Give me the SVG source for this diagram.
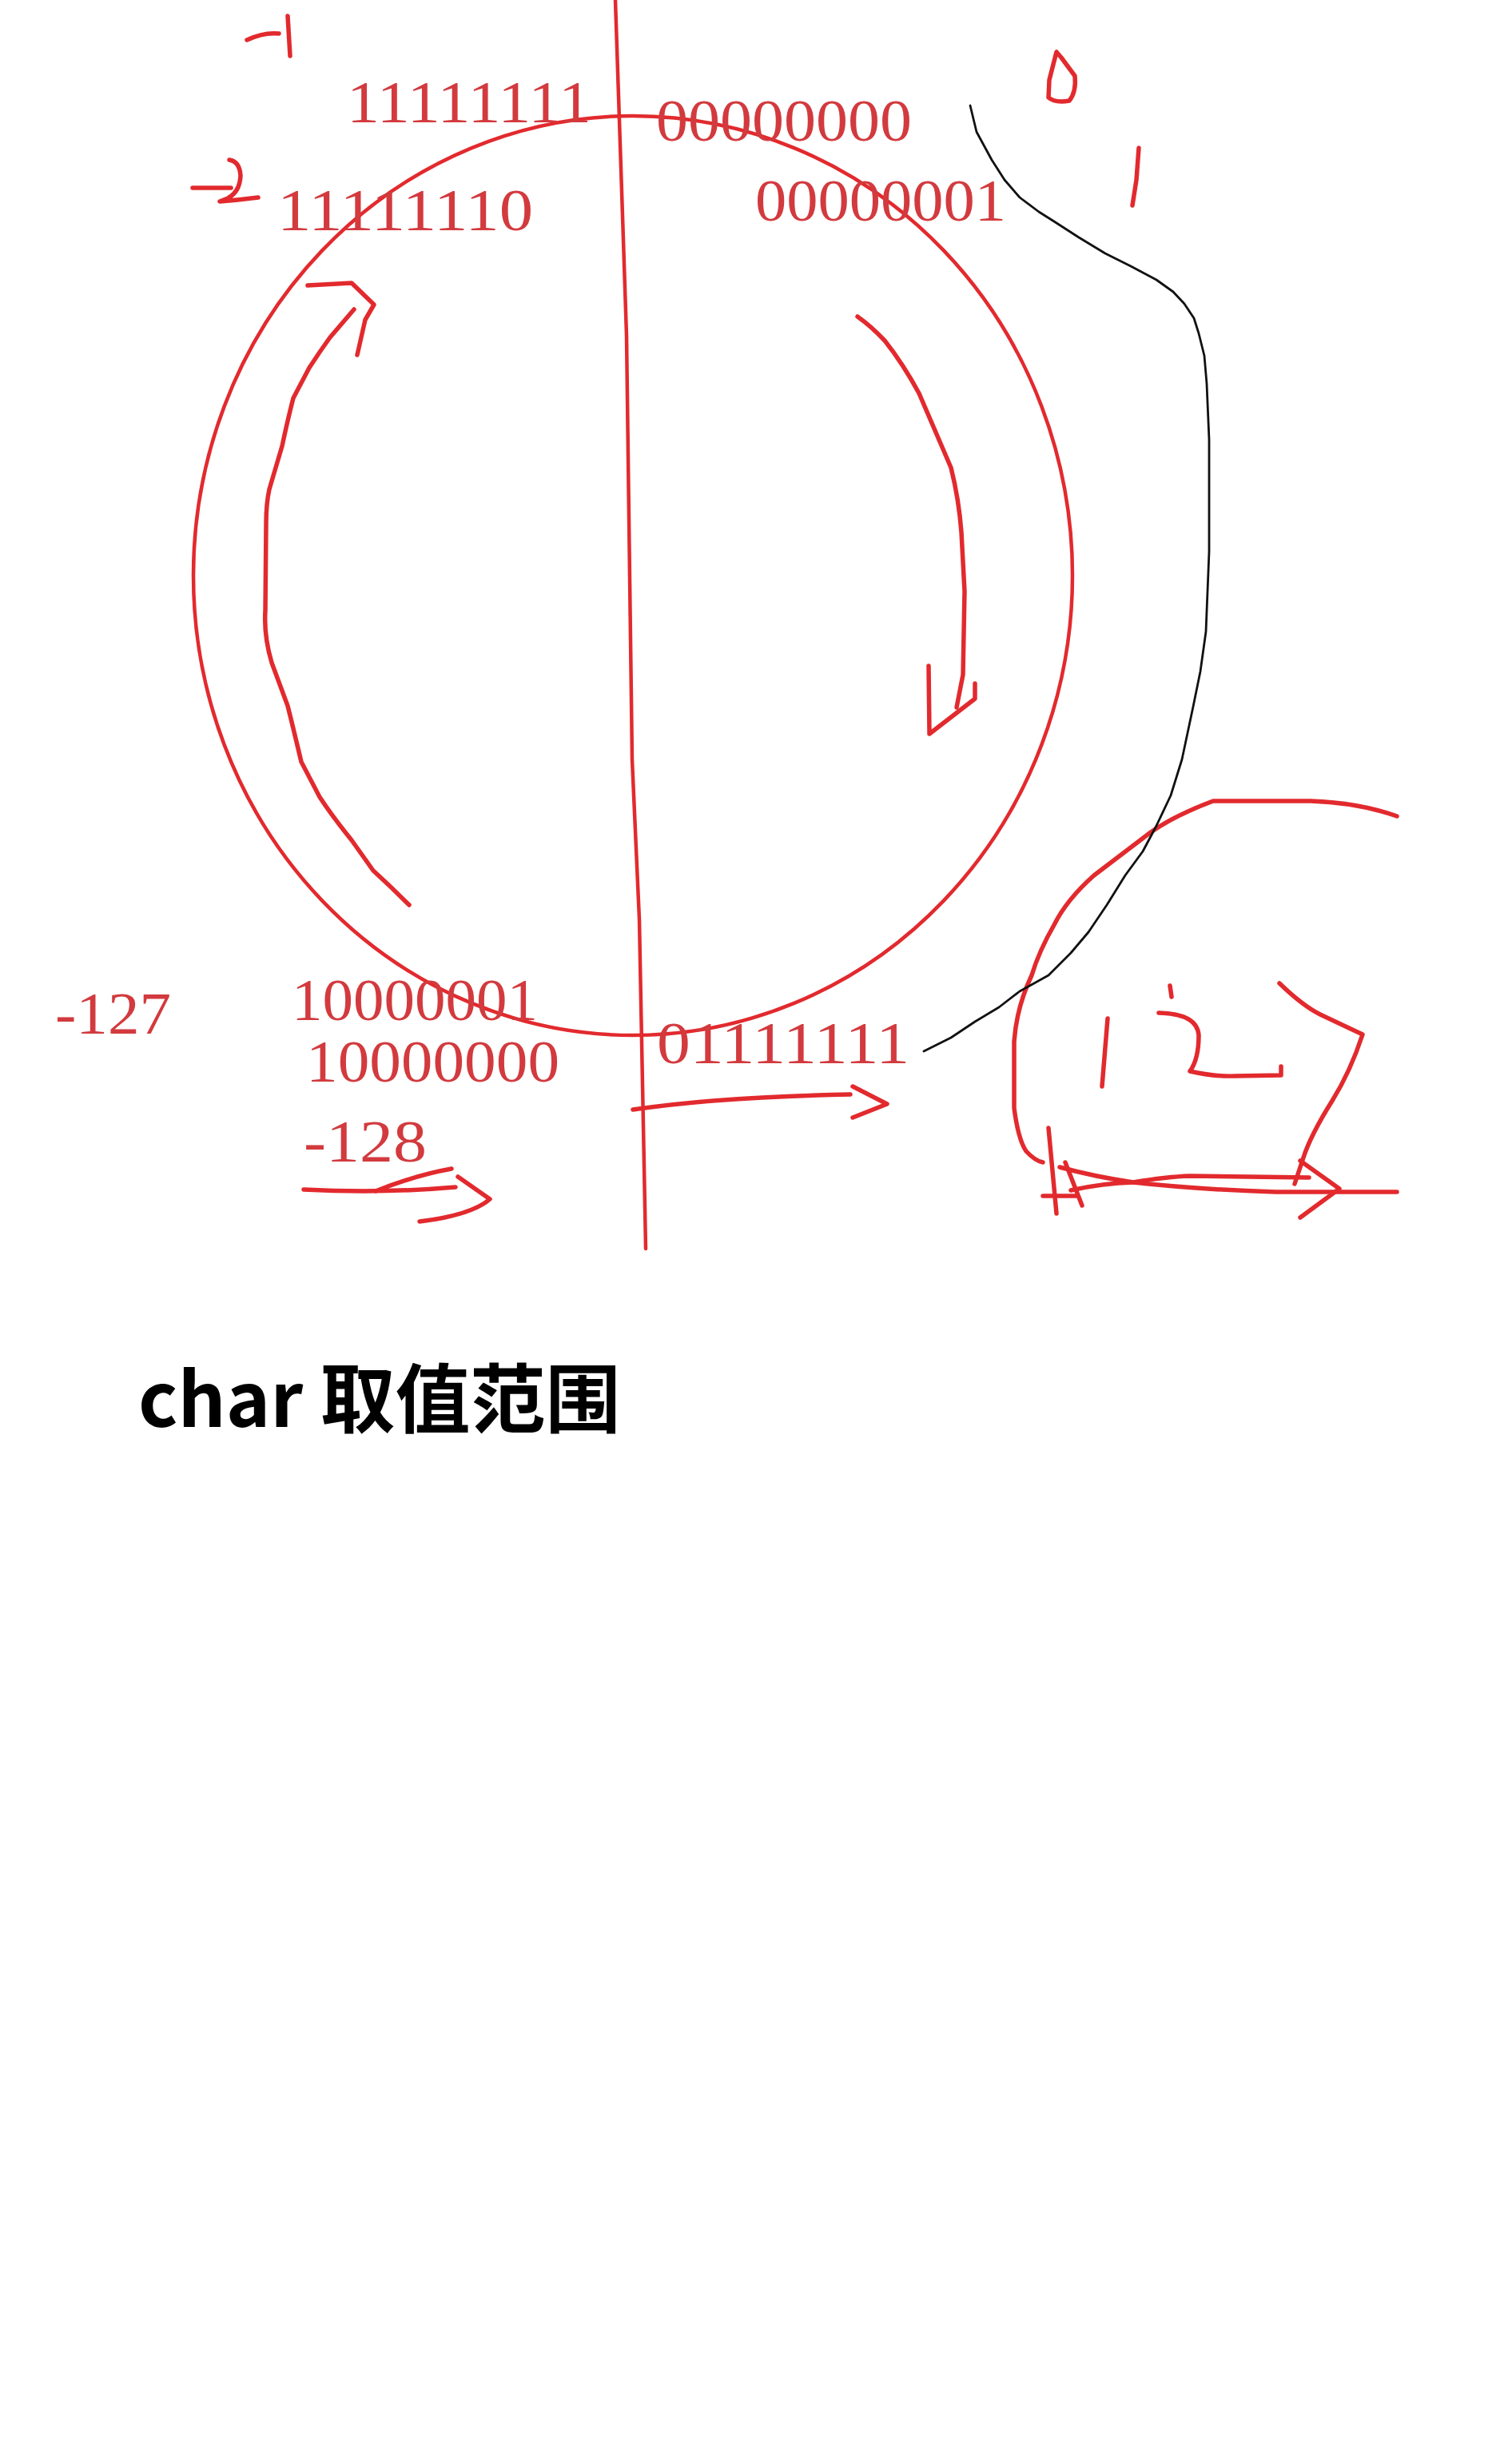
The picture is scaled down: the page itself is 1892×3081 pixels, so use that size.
<svg xmlns="http://www.w3.org/2000/svg" width="1892" height="3081" viewBox="0 0 1892 3081">
<style>
.pen{fill:none;stroke:#e22a2e;stroke-width:5.5;stroke-linecap:round;stroke-linejoin:round}
.thin{fill:none;stroke:#e22a2e;stroke-width:4.5;stroke-linecap:round;stroke-linejoin:round}
.ink{fill:none;stroke:#111;stroke-width:2.8;stroke-linecap:round;stroke-linejoin:round}
.num{font-family:"Liberation Serif",serif;font-size:75px;fill:#d23a3e}
.title{font-family:"Noto Sans CJK SC","Noto Sans",sans-serif;font-size:94px;font-weight:700;fill:#000}
</style>
<rect width="1892" height="3081" fill="#fff"/>
<g id="circle">
<ellipse cx="792" cy="720" rx="550" ry="575" class="thin"/>
</g>
<g id="axis">
<path class="thin" d="M770,0 L784,420 L791,950 L800,1150 L808,1562"/>
</g>
<g id="labels">
<text class="num" x="434" y="153" textLength="306" lengthAdjust="spacingAndGlyphs">11111111</text>
<text class="num" x="821" y="176" textLength="320" lengthAdjust="spacingAndGlyphs">00000000</text>
<text class="num" x="347" y="288" textLength="320" lengthAdjust="spacingAndGlyphs">11111110</text>
<text class="num" x="945" y="276" textLength="314" lengthAdjust="spacingAndGlyphs">00000001</text>
<text class="num" x="69" y="1293" textLength="145" lengthAdjust="spacingAndGlyphs">-127</text>
<text class="num" x="365" y="1276" textLength="308" lengthAdjust="spacingAndGlyphs">10000001</text>
<text class="num" x="383" y="1353" textLength="317" lengthAdjust="spacingAndGlyphs">10000000</text>
<text class="num" x="380" y="1453" textLength="154" lengthAdjust="spacingAndGlyphs">-128</text>
<text class="num" x="822" y="1330" textLength="316" lengthAdjust="spacingAndGlyphs">01111111</text>
</g>
<g id="handwriting">
<path class="pen" d="M309,50 Q330,40 349,42"/>
<path class="pen" d="M360,20 L363,70"/>
<path class="pen" d="M241,235 L289,235"/>
<path class="pen" d="M287,200 Q300,202 301,220 Q300,240 285,248 L275,252 Q300,250 323,247"/>
<path class="pen" d="M1322,65 L1313,100 L1312,122 Q1320,129 1338,126 Q1347,115 1345,95 L1328,72 Z"/>
<path class="pen" d="M1425,185 L1422,225 L1417,257"/>
<path class="pen" d="M1386,1274 L1379,1359"/>
<path class="pen" d="M1464,1233 L1466,1247"/>
<path class="pen" d="M1450,1267 Q1498,1268 1500,1295 Q1500,1325 1489,1340 Q1520,1347 1546,1346 L1603,1345 L1603,1334"/>
<path class="pen" d="M1748,1021 Q1700,1004 1640,1002 L1518,1002 Q1470,1020 1440,1041 L1369,1095 Q1335,1125 1319,1157 Q1300,1190 1291,1220 Q1272,1260 1269,1303 L1269,1386 Q1274,1425 1284,1440 Q1295,1452 1305,1454"/>
<path class="pen" d="M1326,1460 Q1370,1472 1418,1479 Q1500,1488 1596,1491 L1748,1491"/>
<path class="pen" d="M1340,1489 Q1380,1480 1418,1479 Q1460,1472 1489,1471 L1638,1473"/>
<path class="pen" d="M1627,1452 L1676,1487 L1627,1523"/>
<path class="pen" d="M1601,1230 Q1630,1258 1652,1269 L1705,1294 Q1690,1340 1667,1377 Q1640,1420 1631,1448 L1620,1481"/>
<path class="pen" d="M1312,1411 L1322,1518"/>
<path class="pen" d="M1333,1454 L1354,1508"/>
<path class="pen" d="M1305,1496 L1347,1496"/>
</g>
<g id="connectors">
<path class="pen" d="M512,1132 Q490,1110 467,1089 L440,1051 Q415,1020 400,997 L377,953 Q368,915 360,883 L340,829 Q330,795 332,764 L333,655 Q333,630 337,612 L353,558 Q360,525 367,498 L387,460 Q400,440 413,422 L443,387"/>
<path class="pen" d="M385,357 L440,354 L468,381 L457,400 L447,444"/>
<path class="pen" d="M1073,396 Q1090,408 1107,426 Q1130,455 1150,492 L1190,585 Q1200,625 1203,666 L1207,740 L1205,844 L1197,885"/>
<path class="pen" d="M1162,833 L1163,918 L1220,874 L1220,855"/>
<path class="pen" d="M380,1488 Q480,1493 570,1485"/>
<path class="pen" d="M470,1490 Q520,1470 565,1462"/>
<path class="pen" d="M573,1472 L613,1500 Q590,1520 525,1528"/>
<path class="pen" d="M792,1388 Q900,1372 1064,1369"/>
<path class="pen" d="M1067,1359 L1110,1381 L1067,1398"/>
<path class="ink" d="M1214,132 L1222,165 L1241,200 L1257,225 L1276,247 L1300,265 L1319,277 L1350,297 L1383,317 L1415,333 L1447,350 L1468,365 L1482,380 L1494,398 L1500,417 L1507,445 L1510,480 L1513,550 L1513,690 L1511,740 L1509,790 L1502,840 L1493,884 L1479,950 L1465,995 L1447,1033 L1430,1065 L1408,1095 L1385,1132 L1362,1166 L1340,1192 L1312,1220 L1276,1240 L1250,1260 L1220,1278 L1190,1298 L1156,1315"/>
</g>
<g id="title">
<text class="title" x="173" y="1785">char 取值范围</text>
</g>
</svg>
